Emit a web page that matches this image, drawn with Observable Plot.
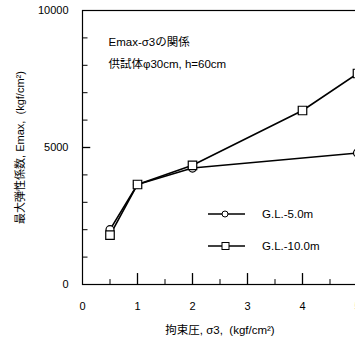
<!DOCTYPE html>
<html><head><meta charset="utf-8">
<script src="https://cdn.jsdelivr.net/npm/d3@7"></script>
<script src="https://cdn.jsdelivr.net/npm/@observablehq/plot@0.6"></script>
<style>
html,body{margin:0;padding:0;background:#fff;overflow:hidden;width:355px;height:343px;}
#chart{position:relative;width:367px;height:343px;}
svg{font-family:"Liberation Sans","Noto Sans CJK JP",sans-serif;}
</style></head><body><div id="chart"></div>
<script>
const sigma5 = [0.5, 1, 2, 5];
const emax5 = [2000, 3650, 4250, 4800];
const sigma10 = [0.5, 1, 2, 4, 5];
const emax10 = [1800, 3650, 4350, 6350, 7700];
const seriesNames = ["G.L.-5.0m", "G.L.-10.0m"];
const xTickLabels = [0, 1, 2, 3, 4, 5];
const xMinorTicks = [0.5, 1.5, 2.5, 3.5, 4.5];
const yTickLabels = [0, 5000, 10000];
const yMinorTicks = [1000, 2000, 3000, 4000, 6000, 7000, 8000, 9000];
const titleLines = ["Emax-σ3の関係", "供試体φ30cm, h=60cm"];
const xLabel = "拘束圧, σ3,  (kgf/cm²)";
const yLabel = "最大弾性係数, Emax,  (kgf/cm²)";

const d5 = sigma5.map((x, i) => ({x, y: emax5[i]}));
const d10 = sigma10.map((x, i) => ({x, y: emax10[i]}));

const chart = Plot.plot({
  width: 367, height: 343,
  marginLeft: 82, marginRight: 10, marginTop: 10, marginBottom: 59,
  style: {fontFamily: '"Liberation Sans","Noto Sans CJK JP",sans-serif', fontSize: "11px", color: "black"},
  x: {domain: [0, 5]},
  y: {domain: [0, 10000]},
  marks: [
    Plot.frame({stroke: "black", strokeWidth: 1.2}),
    Plot.axisX(xTickLabels, {tickSize: 0, tickPadding: 18, label: null, fontSize: 11, tickFormat: d => String(d)}),
    Plot.axisY(yTickLabels, {tickSize: 0, tickPadding: 14, label: null, fontSize: 11, tickFormat: d => String(d)}),
    Plot.ruleX(xTickLabels.slice(1, 5), {y1: 0, y2: 400, stroke: "black", strokeWidth: 1.3}),
    Plot.ruleX(xMinorTicks, {y1: 0, y2: 180, stroke: "black", strokeWidth: 1}),
    Plot.ruleY(yMinorTicks, {x1: 0, x2: 0.1, stroke: "black", strokeWidth: 1}),
    Plot.ruleY([5000], {x1: 0, x2: 0.15, stroke: "black", strokeWidth: 1.3}),
    Plot.line(d5, {x: "x", y: "y", stroke: "black", strokeWidth: 1.6}),
    Plot.line(d10, {x: "x", y: "y", stroke: "black", strokeWidth: 1.6}),
    Plot.dot(d5, {x: "x", y: "y", r: 4, stroke: "black", fill: "white", strokeWidth: 1.2}),
    Plot.dot(d10, {x: "x", y: "y", r: 4.8, symbol: "square", stroke: "black", fill: "white", strokeWidth: 1.2}),
    Plot.text([titleLines[0]], {frameAnchor: "top-left", dx: 26, dy: 32, textAnchor: "start", lineAnchor: "middle", fontSize: 11.5}),
    Plot.text([titleLines[1]], {frameAnchor: "top-left", dx: 26, dy: 54, textAnchor: "start", lineAnchor: "middle", fontSize: 11.5}),
    Plot.text([xLabel], {frameAnchor: "bottom", dy: 46, textAnchor: "middle", lineAnchor: "middle", fontSize: 11.5}),
    Plot.text([yLabel], {frameAnchor: "left", dx: -62, rotate: -90, textAnchor: "middle", lineAnchor: "middle", fontSize: 11})
  ]
});
document.getElementById("chart").appendChild(chart);

// legend inside the plot area
const svg = d3.select(chart);
seriesNames.forEach((name, i) => {
  const cy = 214 + i * 32;
  const g = svg.append("g");
  g.append("line").attr("x1", 208).attr("x2", 245).attr("y1", cy).attr("y2", cy).attr("stroke", "black").attr("stroke-width", 1.3);
  if (i === 0) g.append("circle").attr("cx", 225).attr("cy", cy).attr("r", 3).attr("fill", "white").attr("stroke", "black");
  else g.append("rect").attr("x", 222).attr("y", cy - 3.5).attr("width", 7).attr("height", 7).attr("fill", "white").attr("stroke", "black");
  g.append("text").attr("x", 262).attr("y", cy).attr("dy", "0.35em").attr("text-anchor", "start").attr("font-size", 11.5).attr("fill", "black").text(name);
});
</script></body></html>
